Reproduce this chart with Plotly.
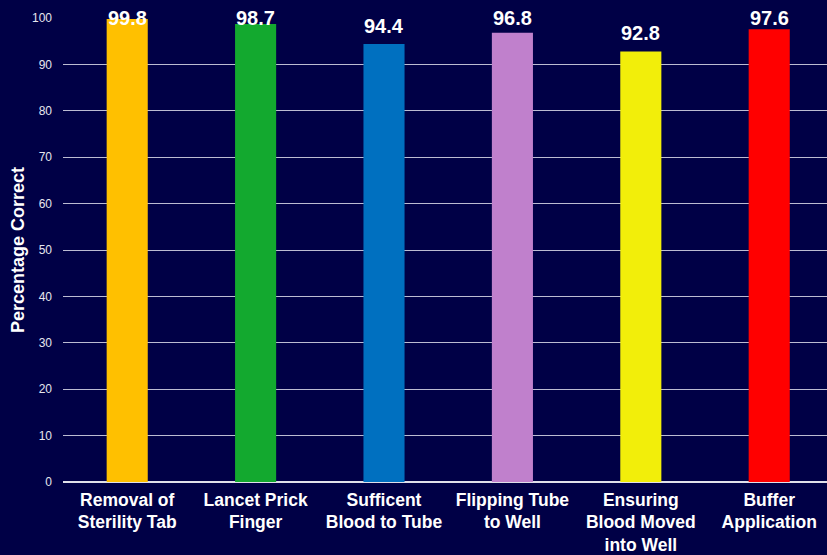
import plotly.graph_objects as go

categories = ["Removal of<br>Sterility Tab", "Lancet Prick<br>Finger", "Sufficent<br>Blood to Tube",
              "Flipping Tube<br>to Well", "Ensuring<br>Blood Moved<br>into Well", "Buffer<br>Application"]
values = [99.8, 98.7, 94.4, 96.8, 92.8, 97.6]
colors = ["#FFC000", "#13A92F", "#0070C0", "#C080CC", "#F2EE0A", "#FF0000"]
y_ticks = list(range(0, 101, 10))
label_cap = 96.1  # labels are kept inside the chart area, as in the original

bg = "#000046"
FONT = "Liberation Sans, Arial"

fig = go.Figure(go.Bar(
    x=categories, y=values, marker=dict(color=colors, line=dict(width=0)),
    width=0.32, hoverinfo="x+y",
))

for c, v in zip(categories, values):
    fig.add_annotation(x=c, y=min(v, label_cap), text=f"<b>{v:.1f}</b>", showarrow=False,
                       yanchor="bottom", yshift=5,
                       font=dict(family=FONT, size=20, color="white"))

fig.update_layout(
    width=827, height=555,
    paper_bgcolor=bg, plot_bgcolor=bg,
    margin=dict(l=63, r=0, t=18, b=73),
    showlegend=False,
    font=dict(family=FONT, color="white"),
    xaxis=dict(range=[-0.5, 5.45], showgrid=False, showline=False, zeroline=False,
               tickfont=dict(family=FONT, size=17.5, color="white", weight="bold"), ticks="",
               ticklabelstandoff=5, automargin=False),
    yaxis=dict(range=[0, 100], tickvals=y_ticks, showgrid=True, gridcolor="#BCBCD2", gridwidth=1,
               zeroline=True, zerolinecolor="#E0E0EA", zerolinewidth=1.5,
               tickfont=dict(family=FONT, size=12, color="#E6E6EE"), ticks="",
               ticklabelstandoff=10, automargin=False,
               title=dict(text="Percentage Correct", font=dict(family=FONT, size=18, color="white", weight="bold"),
                          standoff=2)),
)

fig.write_html("out.html")
